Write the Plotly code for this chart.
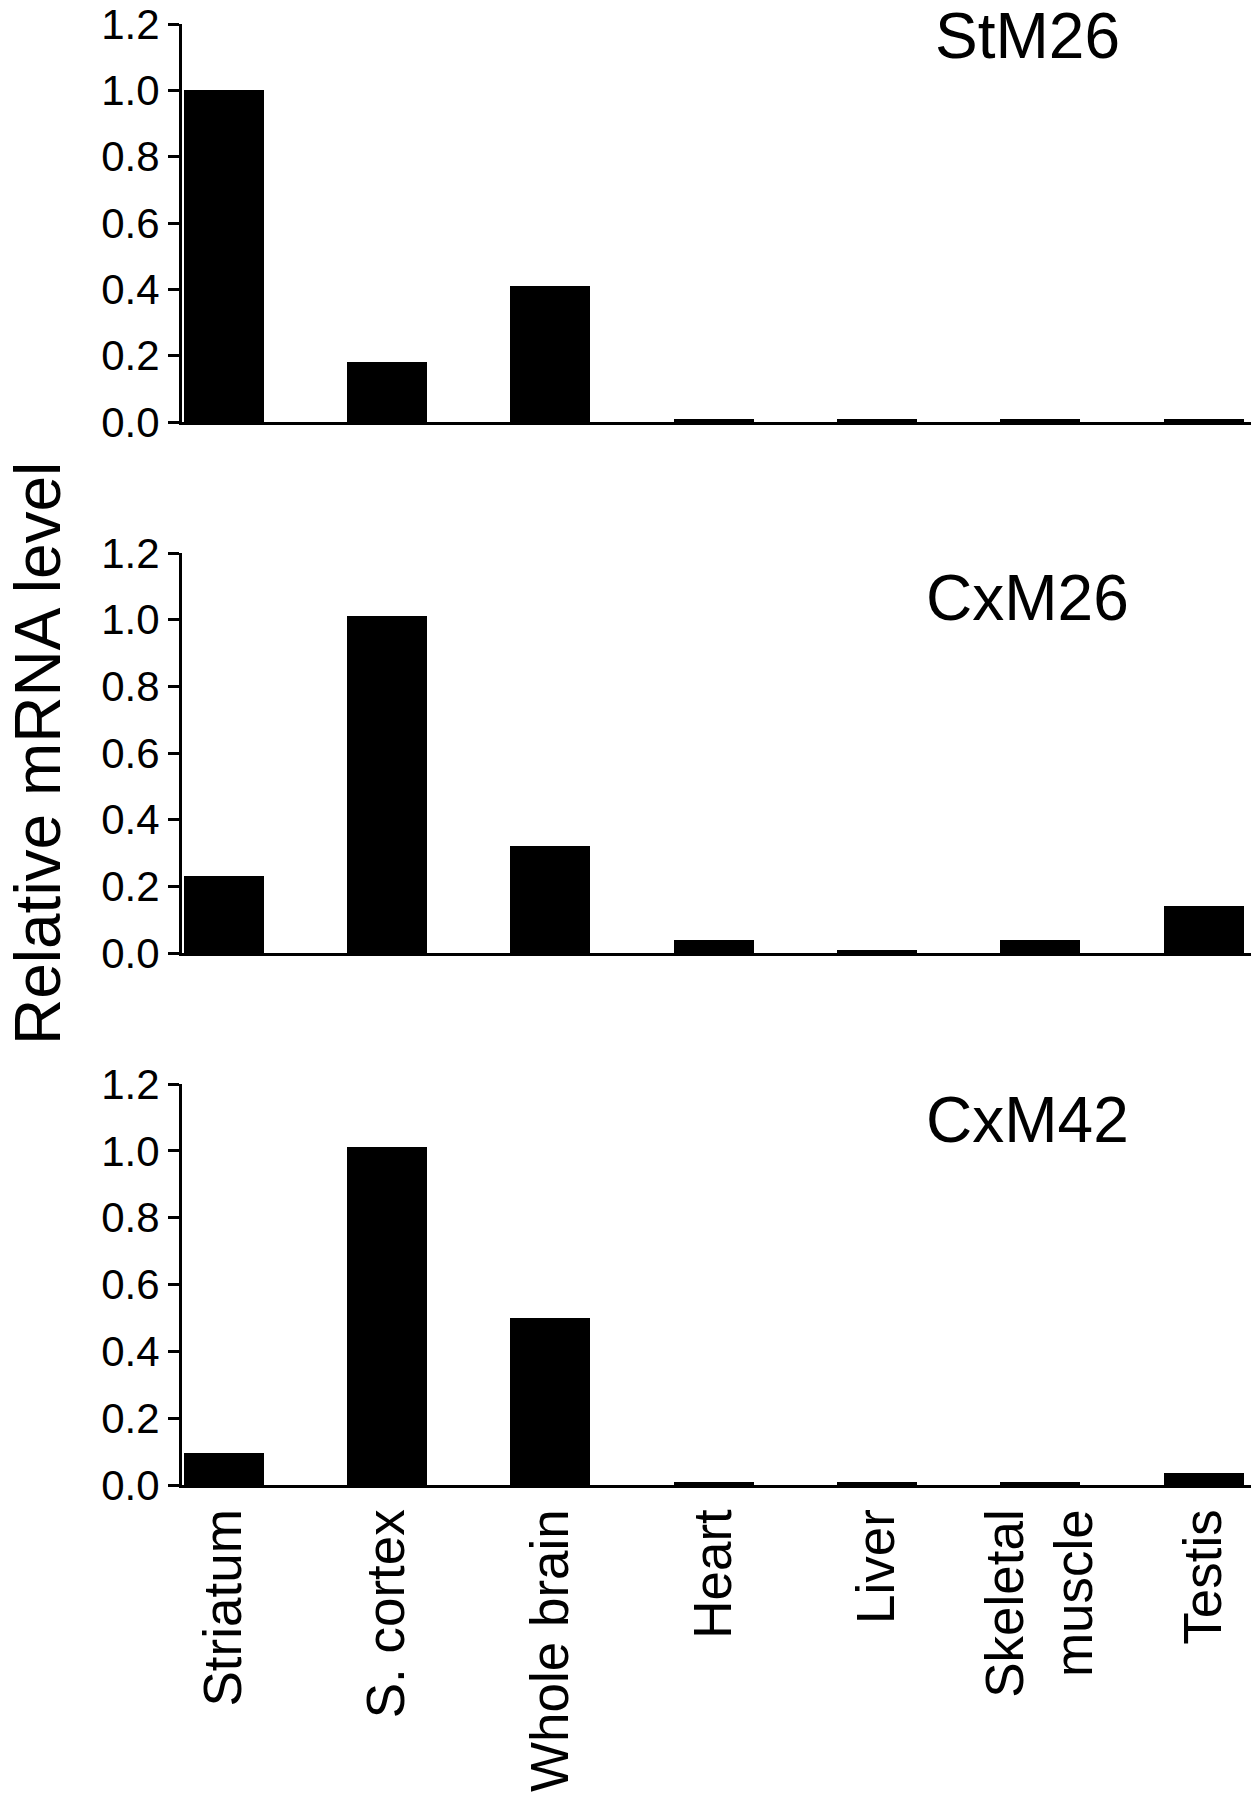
import plotly.graph_objects as go

categories = ["Striatum", "S. cortex", "Whole brain", "Heart", "Liver", "Skeletal<br>muscle", "Testis"]
stm26 = [1.00, 0.18, 0.41, 0.01, 0.01, 0.01, 0.01]
cxm26 = [0.23, 1.01, 0.32, 0.04, 0.01, 0.04, 0.14]
cxm42 = [0.095, 1.01, 0.50, 0.01, 0.01, 0.01, 0.035]
panel_titles = ["StM26", "CxM26", "CxM42"]
y_ticks = [0.0, 0.2, 0.4, 0.6, 0.8, 1.0, 1.2]
y_title = "Relative mRNA level"

W, H = 1252, 1800
ML = 182
FONT = "Liberation Sans, Arial, Helvetica, sans-serif"

# panel pixel extents (top, bottom)
panels_px = [(24, 422), (553, 953), (1084, 1485)]
title_y_px = [36, 598, 1120]

fig = go.Figure()
series = [stm26, cxm26, cxm42]
for i, vals in enumerate(series):
    n = "" if i == 0 else str(i + 1)
    fig.add_trace(go.Bar(
        x=list(range(len(categories))), y=vals,
        marker=dict(color="black", line=dict(width=0)),
        width=0.49,
        xaxis="x" + n, yaxis="y" + n, showlegend=False,
    ))

layout = dict(
    width=W, height=H,
    margin=dict(l=ML, r=1, t=0, b=0),
    paper_bgcolor="white", plot_bgcolor="white",
    font=dict(family=FONT, color="black"),
    bargap=0,
)
annotations = []
for i in range(3):
    n = "" if i == 0 else str(i + 1)
    top, bot = panels_px[i]
    dom = [1 - bot / H, 1 - top / H]
    last = (i == 2)
    layout["xaxis" + n] = dict(
        domain=[0, 1],
        range=[-0.255, 6.29],
        anchor="y" + n,
        tickmode="array",
        tickvals=list(range(len(categories))),
        ticktext=categories,
        showticklabels=last,
        tickangle=-90,
        tickfont=dict(size=53, family=FONT, color="black"),
        ticks="",
        showline=True, linecolor="black", linewidth=3,
        showgrid=False, zeroline=False,
        automargin=False,
    )
    layout["yaxis" + n] = dict(
        domain=dom,
        range=[0, 1.2],
        anchor="x" + n,
        tickmode="array",
        tickvals=y_ticks,
        ticktext=[f"{v:.1f}" for v in y_ticks],
        tickfont=dict(size=42, family=FONT, color="black"),
        ticks="outside", ticklen=11, tickwidth=3, tickcolor="black",
        showline=True, linecolor="black", linewidth=3,
        showgrid=False, zeroline=False,
        automargin=False,
    )
    annotations.append(dict(
        text=panel_titles[i], xref="paper", yref="paper",
        x=(1027 - ML) / (W - ML - 1), y=1 - title_y_px[i] / H,
        xanchor="center", yanchor="middle", showarrow=False,
        font=dict(size=64, family=FONT, color="black"),
    ))

annotations.append(dict(
    text=y_title, xref="paper", yref="paper",
    x=(38 - ML) / (W - ML - 1), y=1 - 754 / H,
    xanchor="center", yanchor="middle", showarrow=False, textangle=-90,
    borderpad=0,
    font=dict(size=64, family=FONT, color="black"),
))
layout["annotations"] = annotations
fig.update_layout(**layout)
fig.write_html("out.html")
